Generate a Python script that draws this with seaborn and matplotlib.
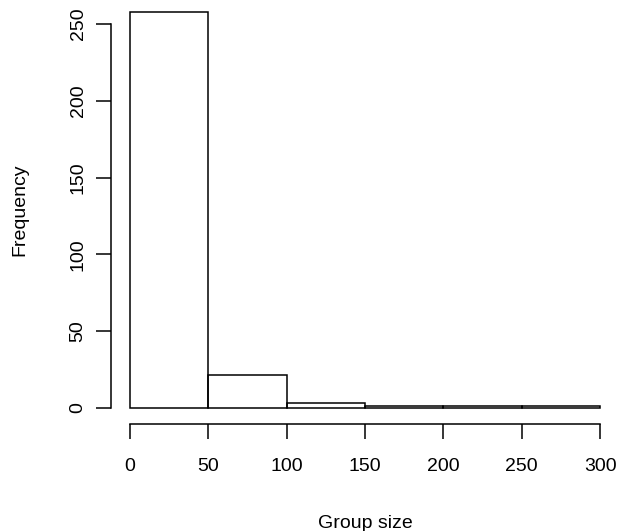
import numpy as np
import pandas as pd
import matplotlib
matplotlib.use('Agg')
import matplotlib.pyplot as plt
import seaborn as sns

# histogram bins (group size) and counts
bin_edges = [0, 50, 100, 150, 200, 250, 300]
counts = [258, 21, 3, 1, 1, 1]
x_ticks = [0, 50, 100, 150, 200, 250, 300]
y_ticks = [0, 50, 100, 150, 200, 250]

bin_mids = [(a + b) / 2 for a, b in zip(bin_edges[:-1], bin_edges[1:])]
df = pd.DataFrame({'size': bin_mids, 'n': counts})

sns.set_style('white')
plt.rcParams['font.family'] = ['Liberation Sans', 'DejaVu Sans']
plt.rcParams['text.color'] = 'black'
plt.rcParams['axes.labelcolor'] = 'black'
plt.rcParams['xtick.color'] = 'black'
plt.rcParams['ytick.color'] = 'black'

fig = plt.figure(figsize=(6.2, 5.31), dpi=100)
ax = fig.add_axes([111 / 620, 1 - 423.5 / 531, 508 / 620, 427.5 / 531])

sns.histplot(data=df, x='size', weights='n', bins=bin_edges,
             fill=False, color='black', linewidth=1.1, element='bars', ax=ax)

ax.set_xlim(-12, 312)
ax.set_ylim(-0.04 * 258, 258 * 1.04)
for s in ['top', 'right']:
    ax.spines[s].set_visible(False)
ax.spines['left'].set_bounds(0, 250)
ax.spines['bottom'].set_bounds(0, 300)
for s in ['left', 'bottom']:
    ax.spines[s].set_color('black')
    ax.spines[s].set_linewidth(1.1)

ax.set_xticks(x_ticks)
ax.set_yticks(y_ticks)
ax.set_yticklabels([str(v) for v in y_ticks], rotation=90, va='center')
ax.tick_params(axis='both', direction='out', length=10.5, width=1.1,
               color='black', labelcolor='black', labelsize=14, left=True, bottom=True)
ax.tick_params(axis='x', pad=14)
ax.tick_params(axis='y', pad=7)
ax.set_xlabel('Group size', fontsize=14, labelpad=29, color='black')
ax.set_ylabel('Frequency', fontsize=14, labelpad=30, color='black')

fig.savefig('out.png', dpi=100)
